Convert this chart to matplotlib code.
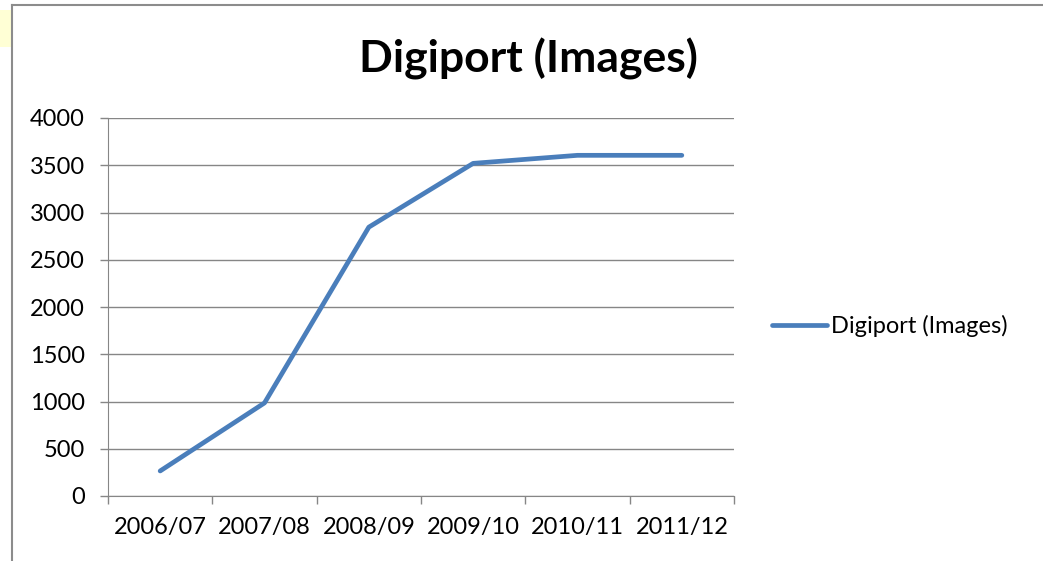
import matplotlib.pyplot as plt
from matplotlib.patches import Rectangle
from matplotlib.lines import Line2D
import numpy as np

plt.rcParams['font.family'] = ['Lato', 'DejaVu Sans']

years = ["2006/07", "2007/08", "2008/09", "2009/10", "2010/11", "2011/12"]
images = [265, 985, 2845, 3520, 3605, 3605]
yticks = [0, 500, 1000, 1500, 2000, 2500, 3000, 3500, 4000]

W, H = 1043, 561
fig = plt.figure(figsize=(W / 100, H / 100), dpi=100)

# chart frame and little yellow patch at the top-left
fig.patches.append(Rectangle((0, 1 - 47 / H), 11 / W, 37 / H, transform=fig.transFigure,
                             facecolor="#FFFFD5", edgecolor="none"))
fig.lines.append(Line2D([12 / W, 12 / W], [0, 1 - 5 / H], transform=fig.transFigure,
                        color="#8C8C8C", lw=1.5))
fig.lines.append(Line2D([12 / W, 1], [1 - 5 / H, 1 - 5 / H], transform=fig.transFigure,
                        color="#8C8C8C", lw=1.5))

ax = fig.add_axes([108 / W, 1 - 496 / H, 626 / W, 378 / H])
x = np.arange(len(years))
ax.plot(x, images, color="#4A7EBB", lw=3.4, solid_capstyle="round",
        solid_joinstyle="round", label="Digiport (Images)")

ax.set_xlim(-0.5, len(years) - 0.5)
ax.set_ylim(0, 4000)
ax.set_yticks(yticks)
ax.yaxis.grid(True, color="#868686", lw=1)
ax.set_axisbelow(True)

ax.set_xticks(np.arange(-0.5, len(years)), labels=[""] * (len(years) + 1))
ax.set_xticks(x, labels=years, minor=True)
ax.tick_params(axis="x", which="minor", length=0, pad=15, labelsize=17)
ax.tick_params(axis="x", which="major", length=5.5, color="#868686", width=1)
ax.tick_params(axis="y", length=5.5, color="#868686", width=1, labelsize=17, pad=11)

for s in ["top", "right"]:
    ax.spines[s].set_visible(False)
for s in ["left", "bottom"]:
    ax.spines[s].set_color("#868686")

fig.text(528 / W, 1 - 59 / H, "Digiport (Images)", ha="center", va="center",
         fontsize=32, fontweight="bold")

ax.legend(loc="center left", bbox_to_anchor=(751 / W, 1 - 326 / H),
          bbox_transform=fig.transFigure, frameon=False, fontsize=17,
          handlelength=2.3, handletextpad=0.2)

fig.savefig("out.png", dpi=100)
